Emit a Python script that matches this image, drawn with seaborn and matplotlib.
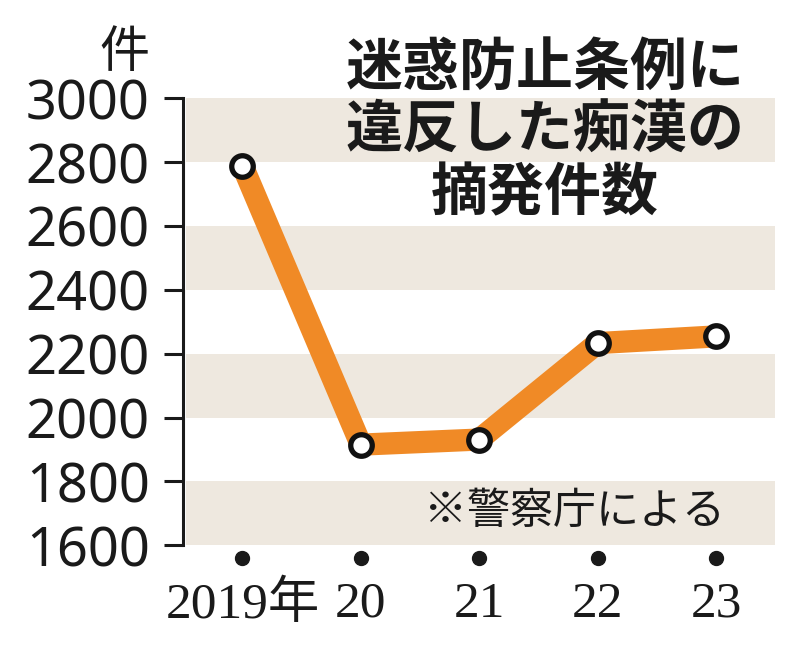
import numpy as np
import matplotlib
matplotlib.use("Agg")
import matplotlib.pyplot as plt
import matplotlib.transforms as mtransforms
import seaborn as sns

years = ["2019年", "20", "21", "22", "23"]
counts = [2789, 1915, 1931, 2233, 2254]
yticks = [1600, 1800, 2000, 2200, 2400, 2600, 2800, 3000]
bands = [(1600, 1800), (2000, 2200), (2400, 2600), (2800, 3000)]
title = "迷惑防止条例に\n違反した痴漢の\n摘発件数"
unit = "件"
note = "※警察庁による"

sns.set_theme(style="white")
plt.rcParams['font.family'] = ['Noto Sans', 'Noto Sans CJK JP', 'DejaVu Sans']

ORANGE = "#F08A26"
BAND = "#EEE8DF"

fig = plt.figure(figsize=(8, 6.46), dpi=100)
ax = fig.add_axes([0.229, 0.156, 0.74, 0.692])

for lo, hi in bands:
    ax.axhspan(lo, hi, xmin=0.005, xmax=1, color=BAND, lw=0, zorder=0)

x = np.arange(len(years))
sns.lineplot(x=x, y=counts, ax=ax, color=ORANGE, linewidth=16,
             solid_joinstyle="miter", solid_capstyle="butt", zorder=3)
ax.scatter(x, counts, s=240, facecolor="white", edgecolor="#111111",
           linewidth=3.8, zorder=4)

ax.set_xlim(-0.5, 4.5)
ax.set_ylim(1600, 3000)
ax.set_yticks(yticks)
ax.set_yticklabels([str(v) for v in yticks], fontsize=39,
                   family=['Noto Sans', 'DejaVu Sans'], color="#1a1a1a")
ax.tick_params(axis="y", direction="out", length=14, width=2.2,
               color="#1a1a1a", pad=10, left=True)

ax.set_xticks(x)
ax.set_xticklabels(years, fontsize=37,
                   family=['Liberation Serif', 'Noto Sans CJK JP'], color="#1a1a1a")
ax.tick_params(axis="x", length=0, pad=26)

for s in ["top", "right", "bottom"]:
    ax.spines[s].set_visible(False)
ax.spines["left"].set_linewidth(2.2)
ax.spines["left"].set_color("#1a1a1a")
ax.set_xlabel("")
ax.set_ylabel("")

trans = mtransforms.blended_transform_factory(ax.transData, ax.transAxes)
ax.scatter(x, [-0.029] * len(x), s=100, color="#1a1a1a", transform=trans,
           clip_on=False, zorder=5)

fig.text(0.156, 0.918, unit, fontsize=36, ha="center", va="center",
         family=['Noto Sans CJK JP'], color="#1a1a1a")
fig.text(0.681, 0.94, title, fontsize=41, ha="center", va="top",
         fontweight="bold", linespacing=1.1,
         family=['Noto Sans CJK JP'], color="#1a1a1a")
fig.text(0.906, 0.207, note, fontsize=31, ha="right", va="center",
         family=['Noto Sans CJK JP'], color="#1a1a1a")

fig.savefig("out.png", dpi=100, facecolor="white")
